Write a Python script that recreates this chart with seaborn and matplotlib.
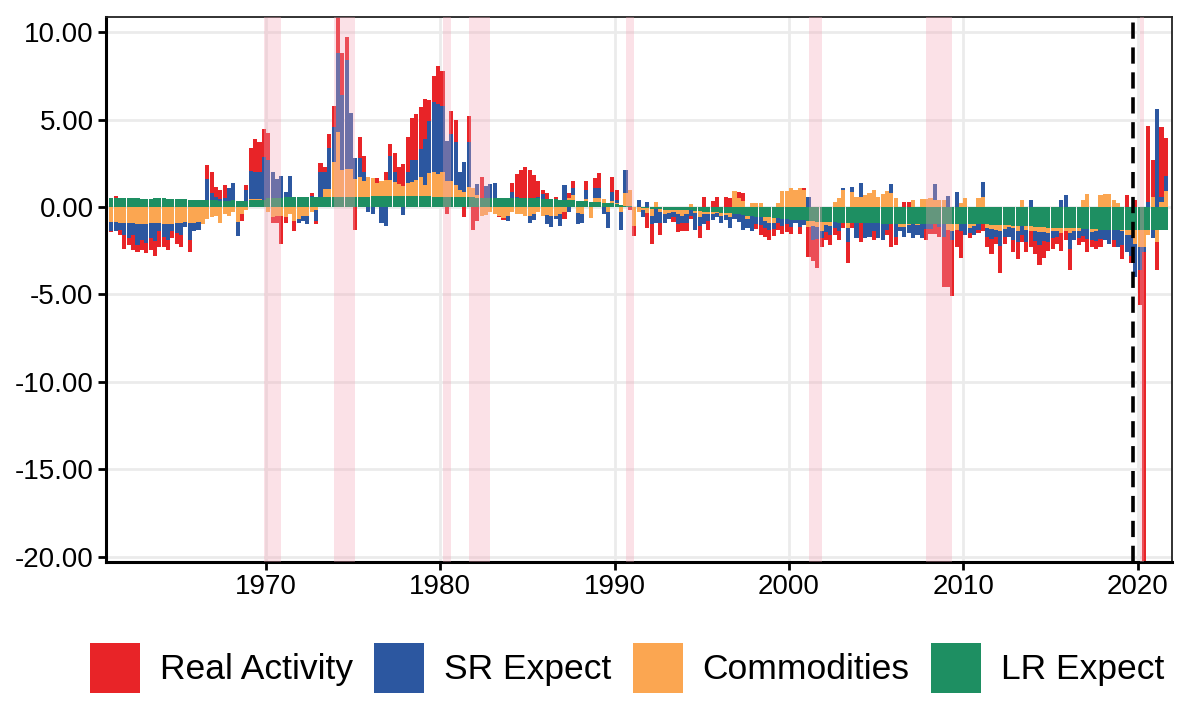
import numpy as np
import pandas as pd
import seaborn as sns
import matplotlib.pyplot as plt
from matplotlib.patches import Patch
from matplotlib.ticker import FormatStrFormatter

# quarterly contributions, 1961Q1 - 2021Q3 (one line per year)
real_activity = [
    -0.05, 0.15, -0.3, -0.8,    # 1961
    -0.4, -0.85, -0.35, -0.55,  # 1962
    -0.6, -0.7, -0.85, -0.9,    # 1963
    -0.6, -0.55, -0.4, -0.6,    # 1964
    -0.7, 0.0, -0.7, 0.0,       # 1965
    0.0, 0.0, 0.8, 1.2,         # 1966
    0.6, 0.55, 0.75, 0.0,       # 1967
    0.0, 0.0, -0.4, 0.3,        # 1968
    1.3, 1.9, 1.7, 1.6,         # 1969
    1.55, -0.3, -0.4, -1.6,     # 1970
    -0.3, 0.0, -0.6, 0.0,       # 1971
    0.0, 0.0, 0.15, -0.2,       # 1972
    0.5, 0.3, 0.8, 1.2,         # 1973
    2.4, 2.4, 1.3, 0.0,         # 1974
    -1.3, 1.2, 0.9, 0.0,        # 1975
    0.0, 0.3, 0.0, 0.45,        # 1976
    0.7, 1.1, 1.0, 1.25,        # 1977
    2.0, 2.4, 2.6, 2.4,         # 1978
    2.3, 1.2, 1.5, 2.15,        # 1979
    2.0, -0.4, 1.3, 1.3,        # 1980
    0.0, -0.6, 1.5, -1.3,       # 1981
    -0.8, 1.2, 0.0, 0.0,        # 1982
    0.0, -0.1, -0.1, 0.0,       # 1983
    0.55, 1.3, 1.6, 1.8,        # 1984
    1.6, 1.35, 0.9, 0.2,        # 1985
    0.35, 0.0, 0.15, 0.0,       # 1986
    -0.4, 0.3, 0.4, 0.0,        # 1987
    0.0, 0.55, 0.0, 0.55,       # 1988
    0.85, 0.0, 0.0, 0.85,       # 1989
    0.6, 0.0, 0.0, -0.2,        # 1990
    -0.55, 0.0, 0.0, -0.85,     # 1991
    -1.1, 0.0, -0.7, 0.0,       # 1992
    0.0, -0.3, -0.5, -0.5,      # 1993
    -0.45, -0.2, 0.0, -0.7,     # 1994
    0.55, -0.5, 0.35, 0.6,      # 1995
    0.0, 0.6, 0.5, 0.0,         # 1996
    0.35, 0.45, 0.0, 0.0,       # 1997
    -0.3, -0.55, -0.5, -0.6,    # 1998
    -0.4, -0.4, -0.45, -0.45,   # 1999
    -0.4, 0.0, -0.4, 0.1,       # 2000
    -1.7, -1.2, -1.65, -0.55,   # 2001
    -0.45, -0.6, -0.4, -0.5,    # 2002
    -0.3, -1.2, -0.3, 0.0,      # 2003
    -1.1, 0.0, 0.0, -0.5,       # 2004
    0.0, 0.0, -0.3, -1.35,      # 2005
    -0.5, 0.0, 0.3, 0.3,        # 2006
    0.0, 0.0, 0.0, -0.65,       # 2007
    -0.3, -0.6, -0.55, -2.9,    # 2008
    -3.3, -3.2, -1.0, -1.5,     # 2009
    0.0, -0.3, 0.0, -0.2,       # 2010
    -0.4, -0.6, -0.85, -0.4,    # 2011
    -1.55, -0.4, 0.0, -0.7,     # 2012
    -1.0, -0.4, -0.6, -0.9,     # 2013
    -0.75, -1.15, -0.95, -0.5,  # 2014
    -0.6, -0.4, -1.0, -0.5,     # 2015
    -1.2, 0.0, -0.4, -0.35,     # 2016
    -0.75, -0.4, -0.45, -0.45,  # 2017
    0.0, 0.0, -0.4, 0.0,        # 2018
    -0.8, 0.7, -0.4, 0.4,       # 2019
    -2.0, -19.5, 4.35, 2.1,     # 2020
    -1.6, 4.0, 2.15,            # 2021
]

sr_expect = [
    -0.55, -0.5, -0.4, -0.7,    # 1961
    -0.9, -0.7, -1.25, -0.95,   # 1962
    -1.1, -0.85, -1.05, -0.5,   # 1963
    -0.75, -0.95, -0.4, -0.6,   # 1964
    -0.7, -0.3, -1.0, -0.5,     # 1965
    -0.45, 0.0, 1.2, 0.4,       # 1966
    0.15, 0.1, 0.15, 0.75,      # 1967
    0.95, -0.8, 0.0, 0.6,       # 1968
    1.6, 1.55, 1.55, 2.45,      # 1969
    2.2, 1.5, 1.1, 1.3,         # 1970
    0.3, 1.2, 0.0, -0.2,        # 1971
    -0.3, -0.5, 0.1, -0.6,      # 1972
    1.45, 0.95, 2.35, 2.0,      # 1973
    4.5, 4.3, 6.2, 3.2,         # 1974
    1.2, 1.1, 0.5, -0.3,        # 1975
    -0.4, 0.0, -0.9, -1.1,      # 1976
    1.35, 0.55, 0.0, -0.45,     # 1977
    0.65, 1.25, 1.15, 1.6,      # 1978
    2.65, 2.95, 4.0, 4.0,       # 1979
    3.8, 2.3, 2.7, 2.45,        # 1980
    1.0, 1.75, 2.55, 0.0,       # 1981
    0.6, 0.0, 0.7, 0.8,         # 1982
    0.85, 0.0, 0.0, -0.3,       # 1983
    0.35, 0.1, 0.0, 0.0,        # 1984
    -0.4, -0.35, 0.1, 0.3,      # 1985
    -0.5, -0.65, -0.2, -0.7,    # 1986
    0.85, -0.3, 0.4, -0.65,     # 1987
    -0.5, 0.5, 0.0, 0.6,        # 1988
    0.6, -0.4, -0.9, 0.5,       # 1989
    0.15, -1.0, 1.3, 0.0,       # 1990
    0.0, 0.4, -0.4, 0.3,        # 1991
    -0.5, -0.8, -0.6, -0.5,     # 1992
    -0.35, -0.25, -0.55, -0.4,  # 1993
    -0.5, -0.3, -0.95, -0.55,   # 1994
    -0.6, -0.4, -0.35, -0.25,   # 1995
    -0.4, -0.3, -0.65, -0.3,    # 1996
    -0.45, -0.85, -0.5, -0.85,  # 1997
    -0.4, -0.5, -0.4, -0.4,     # 1998
    -0.35, -0.25, -0.4, -0.3,   # 1999
    -0.4, -0.15, -0.4, -0.3,    # 2000
    0.6, -0.8, -0.7, -0.4,      # 2001
    -0.4, -0.5, -0.35, -0.5,    # 2002
    0.1, -0.8, 0.3, -0.9,       # 2003
    0.8, -0.9, -0.8, -0.5,      # 2004
    -0.9, -0.95, -0.35, 0.5,    # 2005
    -0.75, -0.25, -0.55, -0.45, # 2006
    -0.85, -0.55, -0.85, -0.3,  # 2007
    -0.3, 0.9, -0.2, -0.7,      # 2008
    0.65, -0.5, 0.85, -0.4,     # 2009
    -0.6, -0.3, -0.5, -0.3,     # 2010
    0.85, -0.5, -0.6, -0.4,     # 2011
    -0.9, -0.45, -0.55, -0.7,   # 2012
    -0.6, -0.5, -0.7, 0.4,      # 2013
    -0.6, -0.7, -0.5, -0.5,     # 2014
    -0.4, -0.3, 0.4, 0.7,       # 2015
    -0.9, -0.5, -0.4, -0.4,     # 2016
    -0.6, -0.45, -0.6, -0.55,   # 2017
    -0.6, -0.8, -0.6, -1.0,     # 2018
    -0.8, -1.0, -1.2, -1.9,     # 2019
    -1.3, -0.3, 0.3, -0.5,      # 2020
    5.6, 0.3, 0.9,              # 2021
]

commodities = [
    -0.85, -0.85, -0.9, -0.9,   # 1961
    -0.9, -0.9, -0.95, -0.95,   # 1962
    -0.95, -0.9, -0.9, -0.9,    # 1963
    -0.95, -0.95, -1.0, -0.9,   # 1964
    -0.9, -0.85, -0.9, -0.9,    # 1965
    -0.85, -1.0, -0.7, -0.6,    # 1966
    -0.5, -0.9, -0.4, -0.5,     # 1967
    -0.3, -0.85, -0.4, -0.2,    # 1968
    0.05, 0.05, 0.05, 0.0,      # 1969
    -0.3, -0.6, -0.5, -0.5,     # 1970
    -0.6, -0.4, -0.8, -0.7,     # 1971
    -0.5, -0.5, -0.3, -0.2,     # 1972
    0.0, 0.5, 0.5, 2.05,        # 1973
    3.7, 1.5, 1.6, 1.6,         # 1974
    1.0, 1.1, 0.9, 1.1,         # 1975
    1.0, 0.7, 0.85, 0.9,        # 1976
    0.9, 0.8, 0.65, 0.55,       # 1977
    0.7, 0.8, 0.9, 1.05,        # 1978
    0.6, 1.3, 1.4, 1.3,         # 1979
    1.4, 0.9, 0.95, 0.7,        # 1980
    0.45, 0.3, 0.6, 0.55,       # 1981
    0.2, -0.5, -0.45, -0.3,     # 1982
    -0.4, -0.5, -0.65, -0.5,    # 1983
    -0.3, -0.4, -0.4, -0.5,     # 1984
    -0.5, -0.4, -0.3, -0.5,     # 1985
    -0.45, -0.5, -0.5, -0.4,    # 1986
    -0.3, 0.1, 0.3, -0.35,      # 1987
    -0.4, 0.1, -0.65, 0.2,      # 1988
    0.2, 0.2, -0.3, 0.15,       # 1989
    0.1, -0.3, 0.75, 0.95,      # 1990
    -1.1, -0.3, -0.15, -0.3,    # 1991
    -0.4, 0.3, -0.2, -0.25,     # 1992
    -0.2, -0.15, -0.2, -0.3,    # 1993
    -0.2, 0.15, -0.1, -0.3,     # 1994
    -0.1, -0.1, -0.1, -0.05,    # 1995
    -0.15, -0.1, -0.2, 0.9,     # 1996
    0.5, 0.35, -0.2, 0.25,      # 1997
    0.25, 0.2, -0.2, -0.3,      # 1998
    -0.25, 0.2, 0.9, 0.9,       # 1999
    1.1, 1.0, 1.1, 1.0,         # 2000
    -0.35, -0.3, -0.3, -0.5,    # 2001
    -0.2, -0.25, 0.3, 0.5,      # 2002
    1.0, -0.3, 0.85, 0.6,       # 2003
    0.6, 0.7, 0.8, 1.0,         # 2004
    0.6, 0.75, 0.9, 0.8,        # 2005
    0.5, -0.2, -0.2, -0.1,      # 2006
    0.4, -0.1, 0.45, 0.45,      # 2007
    0.5, 0.4, 0.4, 0.4,         # 2008
    -0.3, -0.4, -0.3, 0.2,      # 2009
    0.5, -0.2, -0.1, 0.5,       # 2010
    0.6, -0.2, -0.2, -0.25,     # 2011
    -0.3, -0.2, -0.1, -0.1,     # 2012
    -0.3, 0.4, -0.2, -0.3,      # 2013
    -0.2, -0.3, -0.3, -0.3,     # 2014
    -0.2, -0.2, -0.3, -0.2,     # 2015
    -0.3, -0.2, -0.2, 0.4,      # 2016
    0.75, -0.2, -0.1, 0.7,      # 2017
    0.75, 0.75, 0.4, 0.2,       # 2018
    -0.1, -0.3, -0.3, -0.8,     # 2019
    -1.0, -1.0, -0.3, 0.6,      # 2020
    -0.7, 0.3, 0.9,             # 2021
]

lr_expect = [
    0.5, 0.5, 0.5, 0.5,         # 1961
    0.5, 0.5, 0.5, 0.45,        # 1962
    0.45, 0.45, 0.5, 0.5,       # 1963
    0.5, 0.45, 0.45, 0.45,      # 1964
    0.45, 0.45, 0.4, 0.4,       # 1965
    0.4, 0.4, 0.4, 0.4,         # 1966
    0.4, 0.35, 0.35, 0.35,      # 1967
    0.4, 0.35, 0.35, 0.35,      # 1968
    0.4, 0.4, 0.4, 0.4,         # 1969
    0.5, 0.5, 0.5, 0.5,         # 1970
    0.55, 0.55, 0.55, 0.55,     # 1971
    0.55, 0.55, 0.55, 0.55,     # 1972
    0.55, 0.55, 0.55, 0.55,     # 1973
    0.6, 0.6, 0.6, 0.6,         # 1974
    0.6, 0.6, 0.6, 0.6,         # 1975
    0.65, 0.65, 0.65, 0.65,     # 1976
    0.65, 0.65, 0.65, 0.65,     # 1977
    0.65, 0.65, 0.65, 0.65,     # 1978
    0.65, 0.65, 0.6, 0.6,       # 1979
    0.6, 0.6, 0.55, 0.55,       # 1980
    0.55, 0.55, 0.55, 0.55,     # 1981
    0.5, 0.5, 0.5, 0.5,         # 1982
    0.5, 0.5, 0.5, 0.5,         # 1983
    0.5, 0.5, 0.5, 0.5,         # 1984
    0.5, 0.5, 0.5, 0.45,        # 1985
    0.45, 0.45, 0.45, 0.4,      # 1986
    0.4, 0.4, 0.4, 0.35,        # 1987
    0.35, 0.35, 0.3, 0.3,       # 1988
    0.3, 0.25, 0.2, 0.2,        # 1989
    0.15, 0.1, 0.05, 0.05,      # 1990
    0.0, 0.0, -0.05, -0.05,     # 1991
    -0.1, -0.1, -0.1, -0.15,    # 1992
    -0.15, -0.15, -0.2, -0.2,   # 1993
    -0.2, -0.2, -0.25, -0.25,   # 1994
    -0.3, -0.3, -0.3, -0.3,     # 1995
    -0.35, -0.35, -0.35, -0.4,  # 1996
    -0.4, -0.45, -0.5, -0.5,    # 1997
    -0.55, -0.55, -0.6, -0.6,   # 1998
    -0.65, -0.65, -0.7, -0.7,   # 1999
    -0.75, -0.75, -0.75, -0.75, # 2000
    -0.8, -0.8, -0.85, -0.85,   # 2001
    -0.85, -0.85, -0.85, -0.9,  # 2002
    -0.9, -0.9, -0.9, -0.9,     # 2003
    -0.9, -0.9, -0.9, -0.9,     # 2004
    -0.9, -0.95, -0.95, -0.95,  # 2005
    -0.95, -0.95, -0.95, -0.95, # 2006
    -0.95, -0.95, -0.95, -0.95, # 2007
    -0.95, -0.95, -0.95, -1.0,  # 2008
    -1.0, -1.0, -1.0, -1.0,     # 2009
    -1.0, -1.0, -1.0, -1.0,     # 2010
    -1.0, -1.0, -1.05, -1.05,   # 2011
    -1.05, -1.05, -1.05, -1.1,  # 2012
    -1.1, -1.1, -1.1, -1.1,     # 2013
    -1.15, -1.15, -1.15, -1.2,  # 2014
    -1.2, -1.2, -1.2, -1.2,     # 2015
    -1.2, -1.2, -1.2, -1.25,    # 2016
    -1.25, -1.25, -1.25, -1.3,  # 2017
    -1.3, -1.3, -1.3, -1.3,     # 2018
    -1.3, -1.3, -1.3, -1.3,     # 2019
    -1.3, -1.3, -1.3, -1.3,     # 2020
    -1.3, -1.3, -1.3,           # 2021
]

# NBER recessions (peak quarter to trough quarter, mid-quarter dates)
rec_start = [1969.875, 1973.875, 1980.125, 1981.625, 1990.625, 2001.125, 2007.875, 2020.125]
rec_end = [1970.875, 1975.125, 1980.625, 1982.875, 1991.125, 2001.875, 2009.375, 2020.375]
sample_end = 2019.75

legend_order = ['Real Activity', 'SR Expect', 'Commodities', 'LR Expect']
stack_order = ['LR Expect', 'Commodities', 'SR Expect', 'Real Activity']
palette = {'Real Activity': '#E82428', 'SR Expect': '#2C57A0',
           'Commodities': '#FBA651', 'LR Expect': '#1E8F62'}

quarters = pd.period_range('1961Q1', '2021Q3', freq='Q')
df = pd.DataFrame({'Real Activity': real_activity, 'SR Expect': sr_expect,
                   'Commodities': commodities, 'LR Expect': lr_expect},
                  index=quarters)
t = np.asarray(quarters.year + (quarters.quarter - 1) / 4 + 0.125, dtype=float)

sns.set_theme(style='whitegrid')
plt.rcParams['font.family'] = ['Liberation Sans', 'DejaVu Sans']

fig = plt.figure(figsize=(11.9, 7.14), dpi=100)
ax = fig.add_axes([0.0891, 0.2129, 0.8958, 0.7633])

# stack positives upward and negatives downward, like position_stack
pos_base = np.zeros(len(df))
neg_base = np.zeros(len(df))
for name in stack_order:
    v = df[name].to_numpy()
    bottom = np.where(v >= 0, pos_base, neg_base)
    ax.bar(t, v, bottom=bottom, width=0.235, color=palette[name],
           linewidth=0, zorder=2)
    pos_base += np.clip(v, 0, None)
    neg_base += np.clip(v, None, 0)

for s, e in zip(rec_start, rec_end):
    ax.axvspan(s, e, color='#F4A6B7', alpha=0.33, lw=0, zorder=3)

ax.axvline(sample_end, color='black', lw=2.6, ls=(0, (4.5, 2.4)), zorder=4)

ax.set_xlim(1960.82, 2021.98)
ax.set_ylim(-20.29, 10.86)
ax.set_xticks([1970, 1980, 1990, 2000, 2010, 2020])
ax.set_yticks([-20, -15, -10, -5, 0, 5, 10])
ax.yaxis.set_major_formatter(FormatStrFormatter('%.2f'))
ax.grid(True, color='#EBEBEB', lw=2.0)
ax.set_axisbelow(True)

ax.tick_params(axis='both', labelsize=20, labelcolor='black', length=6,
               width=2.0, color='black', left=True, bottom=True, pad=3)
for side in ['left', 'bottom']:
    ax.spines[side].set_color('black')
    ax.spines[side].set_linewidth(2.2)
for side in ['top', 'right']:
    ax.spines[side].set_color('#222222')
    ax.spines[side].set_linewidth(1.3)

handles = [Patch(facecolor=palette[n], edgecolor='none') for n in legend_order]
leg = fig.legend(handles, legend_order, loc='center',
                 bbox_to_anchor=(0.527, 0.0644), ncol=4, frameon=False,
                 fontsize=25.5, handlelength=1.41, handleheight=1.8,
                 handletextpad=0.56, columnspacing=0.6, borderpad=0)
for txt in leg.get_texts():
    txt.set_color('black')

fig.savefig('out.png', dpi=100)
